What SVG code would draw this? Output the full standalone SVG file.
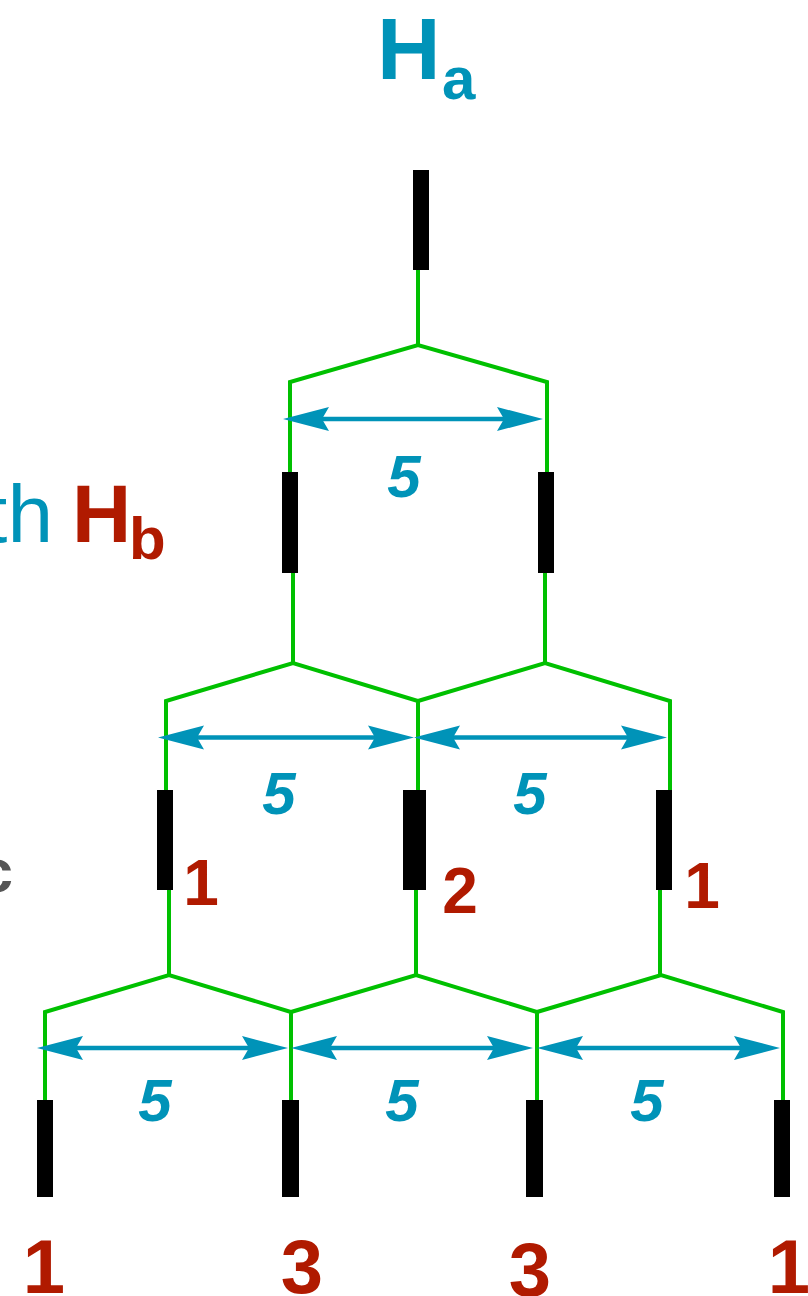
<svg xmlns="http://www.w3.org/2000/svg" width="808" height="1296" viewBox="0 0 808 1296">
<style>
.w{fill:none;stroke:#00c000;stroke-width:4;stroke-linejoin:miter;stroke-linecap:butt}
.r{fill:#000}
.dim{stroke:#0093b8;stroke-width:4.5;fill:none;marker-start:url(#ah);marker-end:url(#ah)}
.num5{font-family:"Liberation Sans",Arial,sans-serif;font-weight:bold;font-style:italic;font-size:60px;fill:#0093b8;text-anchor:middle}
.red{font-family:"Liberation Sans",Arial,sans-serif;font-weight:bold;fill:#b01a00;text-anchor:middle}
.lbl{font-family:"Liberation Sans",Arial,sans-serif}
</style>
<defs>
<marker id="ah" markerUnits="userSpaceOnUse" orient="auto-start-reverse" viewBox="-20 -14 54 28" markerWidth="54" markerHeight="28" refX="0" refY="0">
<path d="M30,0 L-16,-12 L-9,0 L-16,12 Z" fill="#0093b8"/>
</marker>
</defs>

<g id="title-Ha">
<text class="lbl" x="377" y="79" font-size="88" font-weight="bold" fill="#0093b8">H</text>
<text class="lbl" x="442" y="99" font-size="60" font-weight="bold" fill="#0093b8">a</text>
</g>
<g id="label-with-Hb">
<text class="lbl" x="53" y="542" font-size="82" fill="#0093b8" text-anchor="end">th</text>
<text class="lbl" x="72" y="542" font-size="82" font-weight="bold" fill="#b01a00">H</text>
<text class="lbl" x="129" y="559" font-size="60" font-weight="bold" fill="#b01a00">b</text>
</g>
<g id="label-c">
<text class="lbl" x="13" y="892" font-size="62" font-weight="bold" fill="#555555" text-anchor="end">c</text>
</g>

<g id="connectors">
<!-- level 1 -->
<path class="w" d="M418,257 V345"/>
<path class="w" d="M290,472 V382 L418,345 L547,382 V472"/>
<!-- level 2 to 3 -->
<path class="w" d="M293,573 V663"/>
<path class="w" d="M545,573 V663"/>
<path class="w" d="M166,790 V701 L293,663 L418,701 V790"/>
<path class="w" d="M418,701 L545,663 L670,701 V790"/>
<!-- level 3 to 4 -->
<path class="w" d="M169,890 V975"/>
<path class="w" d="M416,890 V975"/>
<path class="w" d="M660,890 V975"/>
<path class="w" d="M45,1100 V1012 L169,975 L291,1012 V1100"/>
<path class="w" d="M291,1012 L416,975 L537,1012 V1100"/>
<path class="w" d="M537,1012 L661,975 L783,1012 V1100"/>
<!-- dimension arrows -->
<line class="dim" x1="313" y1="419" x2="513" y2="419"/>
<line class="dim" x1="188" y1="737.5" x2="384" y2="737.5"/>
<line class="dim" x1="444" y1="737.5" x2="637" y2="737.5"/>
<line class="dim" x1="67" y1="1048" x2="258" y2="1048"/>
<line class="dim" x1="321" y1="1048" x2="503" y2="1048"/>
<line class="dim" x1="567" y1="1048" x2="750" y2="1048"/>
</g>

<g id="dim-labels">
<text class="num5" x="404" y="497">5</text>
<text class="num5" x="279" y="814">5</text>
<text class="num5" x="530" y="814">5</text>
<text class="num5" x="155" y="1121">5</text>
<text class="num5" x="402" y="1121">5</text>
<text class="num5" x="647" y="1121">5</text>
</g>

<g id="R-top"><rect class="r" x="413" y="170" width="16" height="100"/></g>
<g id="R-2a"><rect class="r" x="282" y="472" width="16" height="101"/></g>
<g id="R-2b"><rect class="r" x="538" y="472" width="16" height="101"/></g>
<g id="R-3a"><rect class="r" x="157" y="790" width="16" height="100"/><text class="red" x="201" y="905" font-size="64">1</text></g>
<g id="R-3b"><rect class="r" x="403" y="790" width="23" height="100"/><text class="red" x="460" y="913" font-size="64">2</text></g>
<g id="R-3c"><rect class="r" x="656" y="790" width="16" height="100"/><text class="red" x="702" y="908" font-size="64">1</text></g>
<g id="R-4a"><rect class="r" x="37" y="1100" width="16" height="97"/><text class="red" x="44" y="1293" font-size="76">1</text></g>
<g id="R-4b"><rect class="r" x="282" y="1100" width="17" height="97"/><text class="red" x="302" y="1293" font-size="76">3</text></g>
<g id="R-4c"><rect class="r" x="526" y="1100" width="17" height="97"/><text class="red" x="530" y="1296" font-size="76">3</text></g>
<g id="R-4d"><rect class="r" x="774" y="1100" width="16" height="97"/><text class="red" x="789" y="1293" font-size="76">1</text></g>
</svg>
